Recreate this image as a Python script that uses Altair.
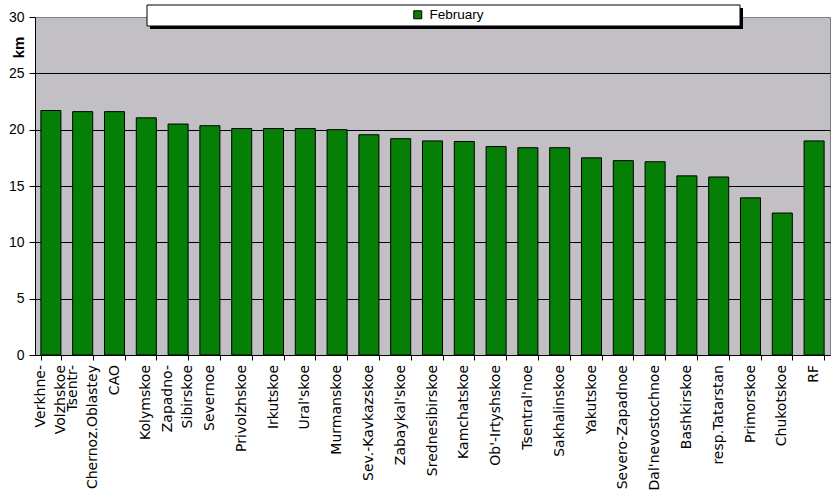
import altair as alt
import pandas as pd

categories = [
    "Verkhne-\nVolzhskoe", "Tsentr-\nChernoz.Oblastey", "CAO", "Kolymskoe",
    "Zapadno-\nSibirskoe", "Severnoe", "Privolzhskoe", "Irkutskoe", "Ural'skoe",
    "Murmanskoe", "Sev.-Kavkazskoe", "Zabaykal'skoe", "Srednesibirskoe",
    "Kamchatskoe", "Ob'-Irtyshskoe", "Tsentral'noe", "Sakhalinskoe", "Yakutskoe",
    "Severo-Zapadnoe", "Dal'nevostochnoe", "Bashkirskoe", "resp.Tatarstan",
    "Primorskoe", "Chukotskoe", "RF",
]
values = [
    21.7, 21.6, 21.6, 21.05, 20.5, 20.35, 20.1, 20.1, 20.1, 20.0, 19.55, 19.2,
    19.0, 18.95, 18.5, 18.4, 18.4, 17.5, 17.25, 17.15, 15.9, 15.8, 13.95, 12.6, 19.0,
]
series_name = "February"
y_ticks = [0, 5, 10, 15, 20, 25, 30]

df = pd.DataFrame({"region": categories, "km": values, "series": [series_name] * len(categories)})

FONT = "Liberation Sans"
XFONT = "DejaVu Sans"

x_scale = alt.Scale(paddingInner=0.37, paddingOuter=0.185)

bars = alt.Chart(df).mark_bar(stroke="black", strokeWidth=1).encode(
    x=alt.X(
        "region:N", sort=categories, title=None, scale=x_scale,
        axis=alt.Axis(
            labels=False, tickBand="extent", tickSize=5, tickColor="black",
            domainColor="black", grid=False,
        ),
    ),
    y=alt.Y(
        "km:Q", title="km",
        scale=alt.Scale(domain=[0, 30], nice=False),
        axis=alt.Axis(
            values=y_ticks, grid=True,
            gridColor={"condition": {"test": "datum.value === 30", "value": "#808080"}, "value": "black"},
            gridWidth=1, tickSize=6, tickColor="black", domainColor="black",
            labelFontSize=14, labelFont=FONT, labelColor="black", labelPadding=5,
            titleX=-17, titleY=30, titleAngle=-90, titleAlign="center", titleBaseline="middle",
            titleFontWeight="bold", titleFontSize=15, titleFont=FONT, titleColor="black",
        ),
    ),
    color=alt.Color(
        "series:N",
        scale=alt.Scale(range=["#067F06"]),
        legend=alt.Legend(
            orient="none", legendX=376, legendY=-9, title=None, padding=0,
            symbolType="square", symbolSize=64, symbolStrokeColor="black",
            symbolStrokeWidth=1, labelFontSize=13.5, labelFont=FONT,
            labelColor="black", labelOffset=5,
        ),
    ),
)

label_base = alt.Chart(df)
labels_single = label_base.mark_text(
    angle=270, align="right", baseline="middle", font=XFONT, fontSize=14,
    color="black", lineBreak="\n", lineHeight=20,
).encode(
    x=alt.X("region:N", sort=categories, scale=x_scale),
    y=alt.value(348),
    text="region:N",
).transform_filter("indexof(datum.region, '\\n') < 0")

labels_double = label_base.mark_text(
    angle=270, align="right", baseline="middle", font=XFONT, fontSize=14,
    color="black", lineBreak="\n", lineHeight=20, dy=-10,
).encode(
    x=alt.X("region:N", sort=categories, scale=x_scale),
    y=alt.value(348),
    text="region:N",
).transform_filter("indexof(datum.region, '\\n') >= 0")

box_df = pd.DataFrame({"k": [0]})
shadow = alt.Chart(box_df).mark_rect(fill="black").encode(
    x=alt.value(115), x2=alt.value(708), y=alt.value(-9), y2=alt.value(12)
)
box = alt.Chart(box_df).mark_rect(fill="white", stroke="black", strokeWidth=1).encode(
    x=alt.value(112), x2=alt.value(705), y=alt.value(-12), y2=alt.value(9)
)

chart = alt.layer(bars, labels_single, labels_double, shadow, box).properties(
    width=795, height=338,
    padding={"left": 35, "top": 17, "right": 5, "bottom": 147},
    autosize="none",
    background="white",
).configure_view(fill="#C3C0C5", stroke="#808080", strokeWidth=1)

chart.save("out.html", embed_options={"renderer": "svg", "actions": False})
